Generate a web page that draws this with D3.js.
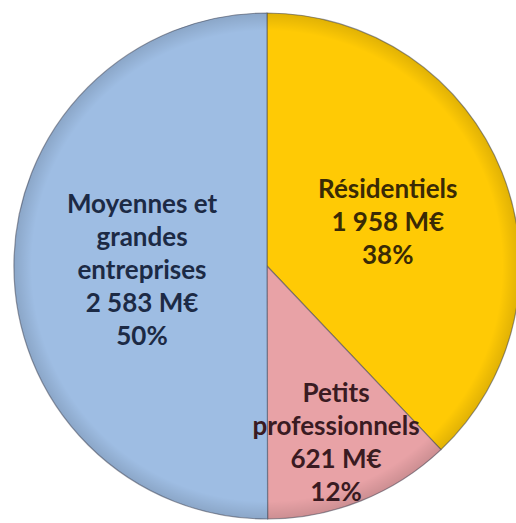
<!DOCTYPE html>
<html lang="fr">
<head>
    <meta charset="UTF-8">
    <title>Répartition du chiffre d'affaires</title>
    <style>
        body { margin: 0; background: #fff; }
        svg { display: block; }
        text { font-family: Lato, "Open Sans", sans-serif; font-weight: bold; }
    </style>
</head>
<body>
    <svg id="pie" width="516" height="523"></svg>

    <script src="https://cdn.jsdelivr.net/npm/d3@7"></script>
    <script>
        // Data
        const segments = ["Résidentiels", "Petits professionnels", "Moyennes et grandes entreprises"];
        const values = [1958, 621, 2583];
        const valueLabels = ["1 958 M€", "621 M€", "2 583 M€"];
        const nameLines = [["Résidentiels"], ["Petits", "professionnels"], ["Moyennes et", "grandes", "entreprises"]];

        const colors = ["#FFCA05", "#E8A2A6", "#9EBDE3"];
        const textColors = ["#3a2a05", "#3a1b22", "#1c2a45"];
        const labelRadius = [130, 186, 125];

        const svg = d3.select("#pie"),
              cx = 267, cy = 266,
              radius = 253,
              lineH = 33;

        const pie = d3.pie().sort(null).value(d => d);
        const arcs = pie(values);
        const total = d3.sum(values);

        const arc = d3.arc().innerRadius(0).outerRadius(radius);

        const defs = svg.append("defs");
        const shade = defs.append("radialGradient")
            .attr("id", "shade")
            .attr("gradientUnits", "userSpaceOnUse")
            .attr("cx", cx).attr("cy", cy).attr("r", radius);
        shade.append("stop").attr("offset", "0.93").attr("stop-color", "#000").attr("stop-opacity", 0);
        shade.append("stop").attr("offset", "1").attr("stop-color", "#000").attr("stop-opacity", 0.12);

        const g = svg.append("g")
            .attr("transform", `translate(${cx},${cy})`);

        g.selectAll("path.slice")
            .data(arcs)
            .join("path")
            .attr("class", "slice")
            .attr("d", arc)
            .attr("fill", (d, i) => colors[i])
            .attr("stroke", "#4a4f5e")
            .attr("stroke-opacity", 0.55)
            .attr("stroke-width", 1.2);

        // soft rim like the original bevel
        svg.append("circle")
            .attr("cx", cx).attr("cy", cy)
            .attr("r", radius)
            .attr("fill", "url(#shade)");

        // Labels
        arcs.forEach((d, i) => {
            const c = d3.arc().innerRadius(labelRadius[i]).outerRadius(labelRadius[i]).centroid(d);
            const lines = nameLines[i].concat([valueLabels[i], Math.round(values[i] / total * 100) + "%"]);
            const t = g.append("text")
                .attr("text-anchor", "middle")
                .attr("fill", textColors[i])
                .attr("font-size", 26);
            lines.forEach((l, k) => {
                t.append("tspan")
                    .attr("x", c[0])
                    .attr("y", c[1] + 4 + (k - (lines.length - 1) / 2) * lineH)
                    .attr("dy", "0.35em")
                    .text(l);
            });
        });
    </script>
</body>
</html>
